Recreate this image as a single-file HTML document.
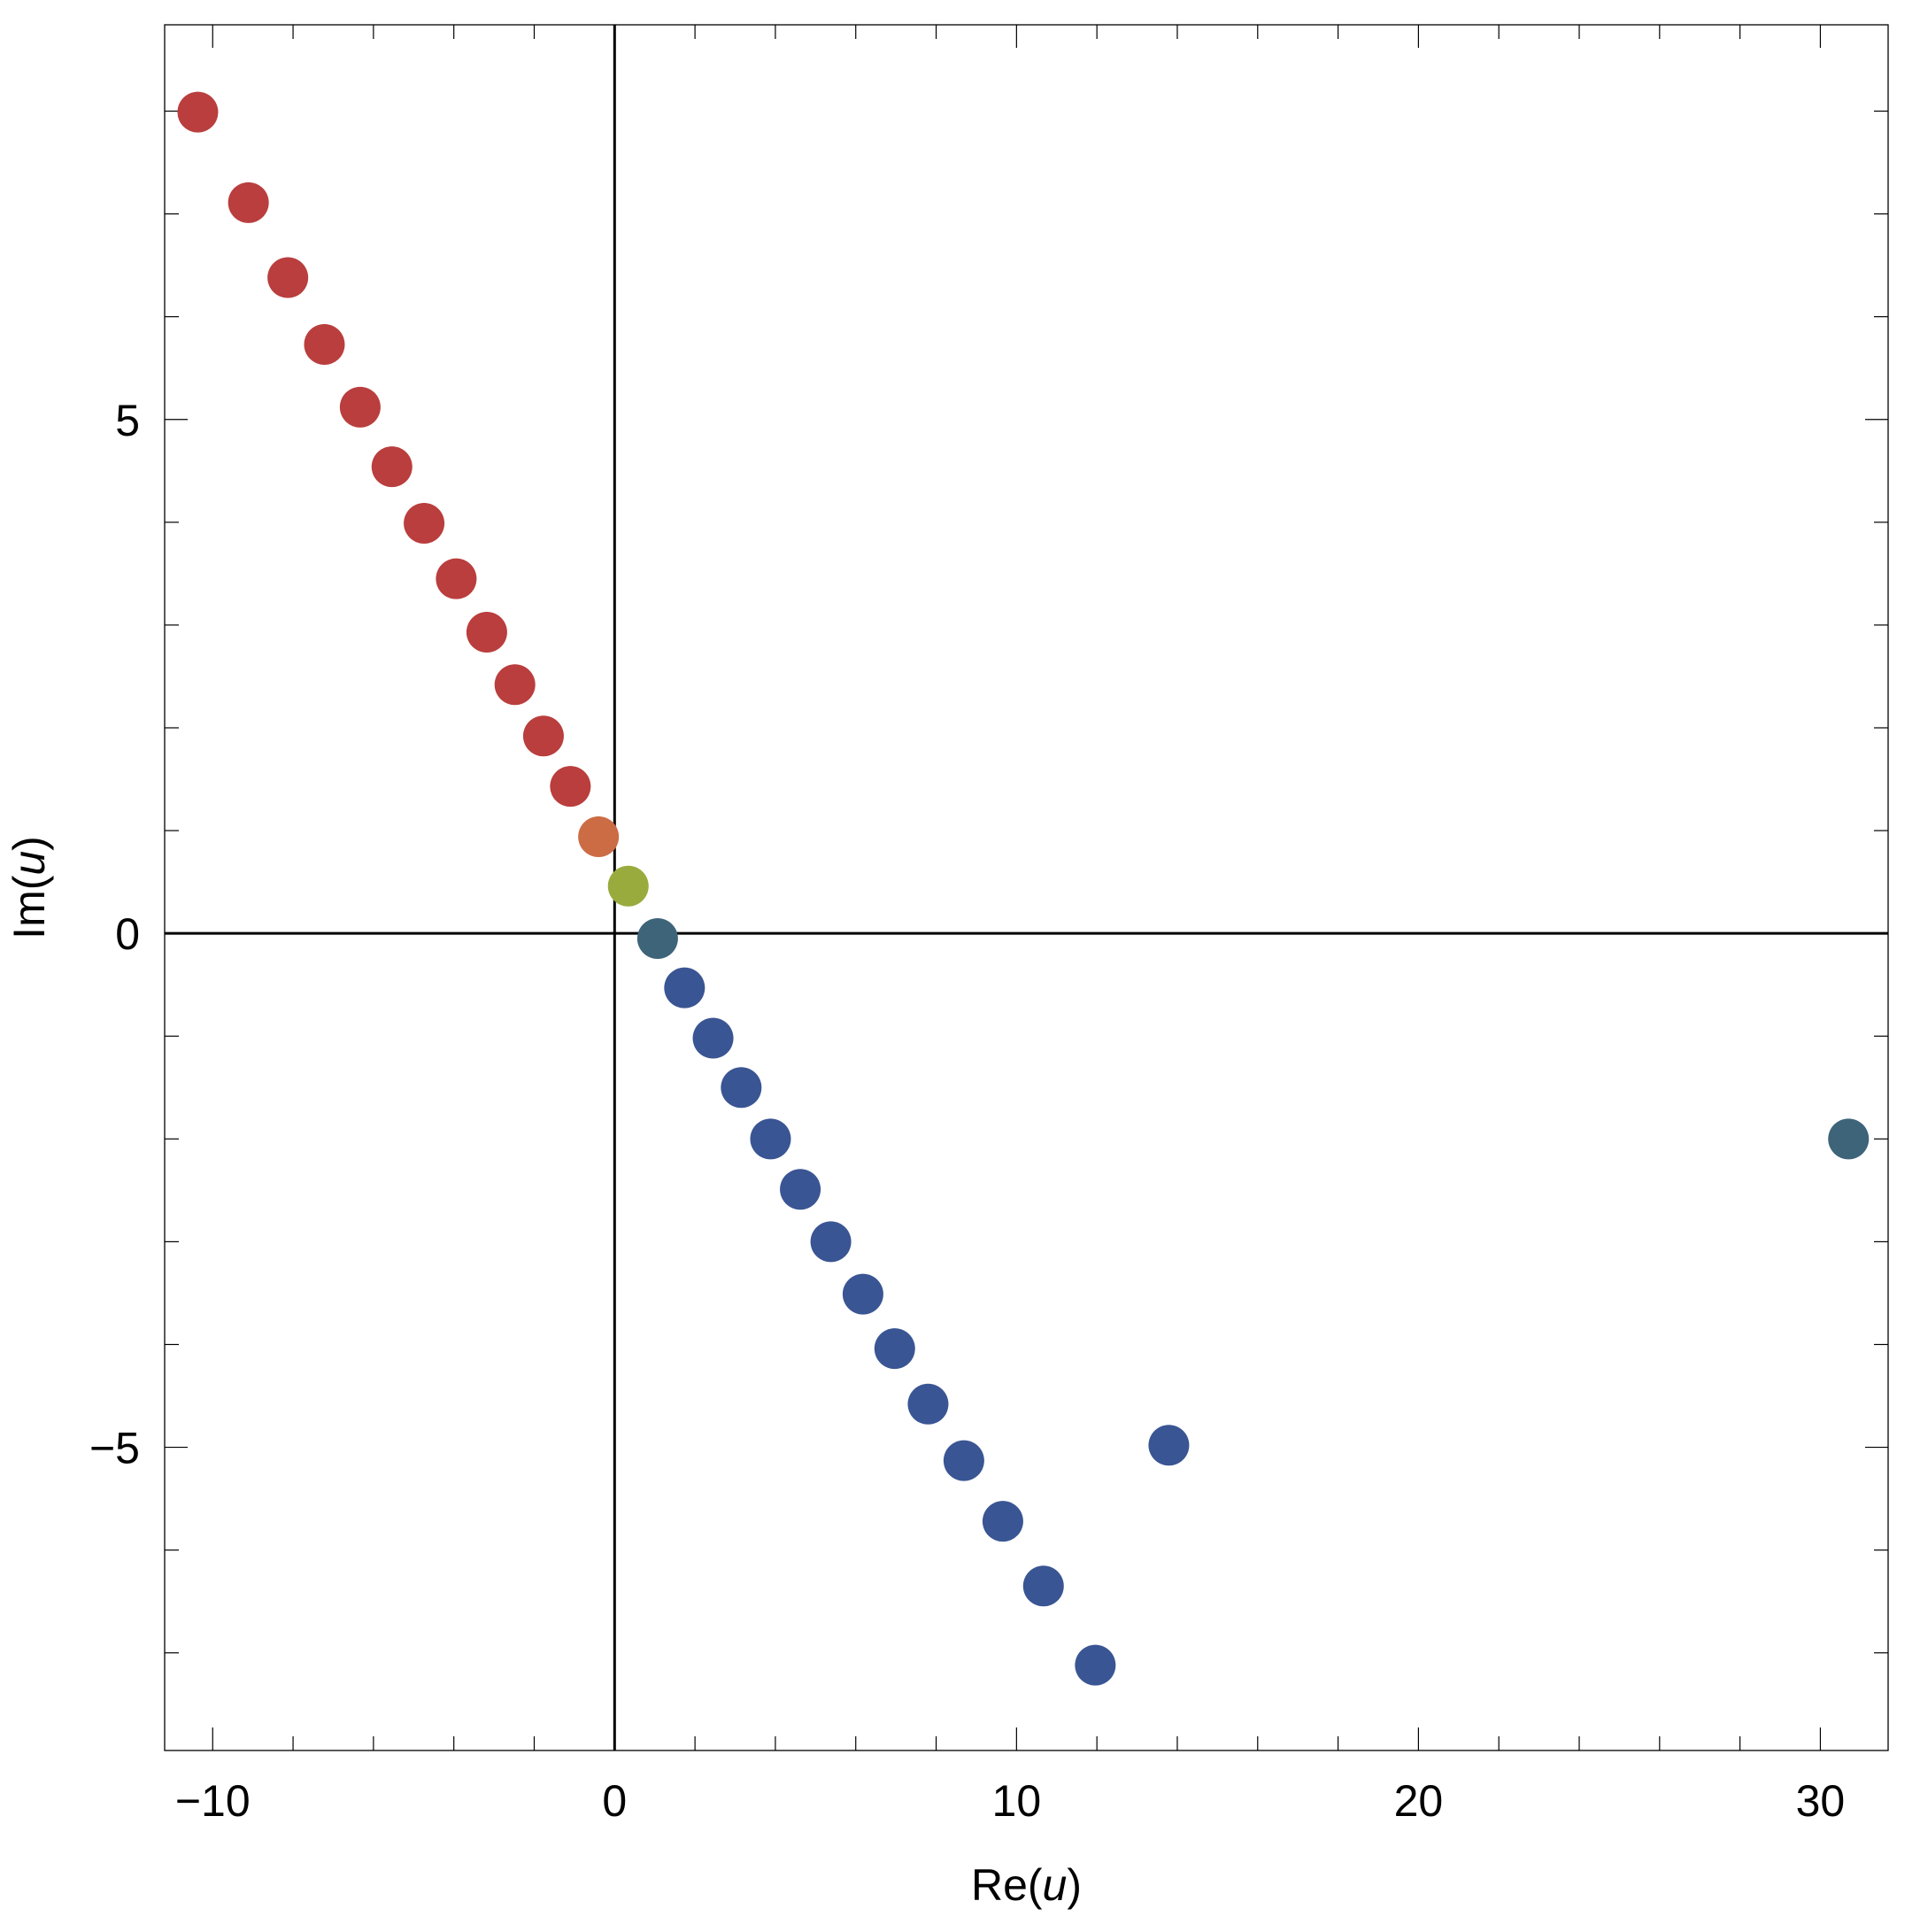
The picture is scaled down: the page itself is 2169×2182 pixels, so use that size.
<!DOCTYPE html>
<html><head><meta charset="utf-8"><style>
html,body{margin:0;padding:0;background:#fff;}
svg{display:block;font-family:"Liberation Sans",Arial,sans-serif;}
</style></head><body>
<svg id="chart" width="2169" height="2182" viewBox="0 0 2169 2182" xmlns="http://www.w3.org/2000/svg">
<g id="frame"></g><g id="ticks"></g><g id="axes"></g><g id="pts"></g><g id="labels"></g>
</svg>
<script>
const reVals=[-10.37,-9.11,-8.13,-7.22,-6.33,-5.54,-4.74,-3.94,-3.18,-2.48,-1.77,-1.10,-0.40,0.34,1.07,1.74,2.45,3.15,3.88,4.62,5.38,6.18,6.97,7.80,8.69,9.66,10.67,11.96,13.79,30.70];
const imVals=[7.99,7.11,6.38,5.73,5.12,4.54,3.99,3.45,2.93,2.42,1.92,1.43,0.94,0.46,-0.05,-0.53,-1.02,-1.50,-2.00,-2.49,-3.00,-3.51,-4.04,-4.58,-5.13,-5.72,-6.35,-7.12,-4.98,-2.00];
const colorKeys=["r","r","r","r","r","r","r","r","r","r","r","r","o","g","t","b","b","b","b","b","b","b","b","b","b","b","b","b","b","t"];
const xTickLabels=[-10,0,10,20,30];
const yTickLabels=[-5,0,5];
const palette={r:"#B93E3D",o:"#CC6C45",g:"#9AAB3E",t:"#3E6479",b:"#3A5593"};
const L=186,R=2133,T=28,B=1977;
const xMin=-11.195,xMax=31.686,yMin=-7.95,yMax=8.84;
const sx=v=>L+(v-xMin)/(xMax-xMin)*(R-L);
const sy=v=>B-(v-yMin)/(yMax-yMin)*(B-T);
const NS="http://www.w3.org/2000/svg";
function mk(tag,attrs,parent){const e=document.createElementNS(NS,tag);for(const k in attrs)e.setAttribute(k,attrs[k]);parent.appendChild(e);return e;}
const frame=document.getElementById('frame'),ticks=document.getElementById('ticks'),axes=document.getElementById('axes'),pts=document.getElementById('pts'),labels=document.getElementById('labels');
const fr=mk('rect',{x:L,y:T,width:R-L,height:B-T,fill:'none',stroke:'#000','stroke-width':1.3},frame);


for(let v=-10;v<=30;v+=2){
  const major=v%10===0, len=major?26:16, x=sx(v);
  const t1=mk('line',{x1:x,x2:x,y1:B,y2:B-len,stroke:'#000','stroke-width':1.2},ticks);
  
  
  const t2=mk('line',{x1:x,x2:x,y1:T,y2:T+len,stroke:'#000','stroke-width':1.2},ticks);
  
  
}
for(let v=-7;v<=8;v++){
  const major=v%5===0, len=major?26:16, y=sy(v);
  const t1=mk('line',{x1:L,x2:L+len,y1:y,y2:y,stroke:'#000','stroke-width':1.2},ticks);
  
  
  const t2=mk('line',{x1:R,x2:R-len,y1:y,y2:y,stroke:'#000','stroke-width':1.2},ticks);
  
  
}
const ax1=mk('line',{x1:sx(0),x2:sx(0),y1:T,y2:B,stroke:'#000','stroke-width':3},axes);


const ax2=mk('line',{x1:L,x2:R,y1:sy(0),y2:sy(0),stroke:'#000','stroke-width':3},axes);


reVals.forEach((re,i)=>{
  const c=mk('circle',{cx:sx(re),cy:sy(imVals[i]),r:23,fill:palette[colorKeys[i]]},pts);
  
  
});
xTickLabels.forEach(v=>{
  const t=mk('text',{x:sx(v),y:B+74,'font-size':50,'text-anchor':'middle',fill:'#000'},labels);
  t.textContent=v<0?'\u2212'+Math.abs(v):String(v);
  
  
});
yTickLabels.forEach(v=>{
  const t=mk('text',{x:L-28,y:sy(v)+18,'font-size':50,'text-anchor':'end',fill:'#000'},labels);
  t.textContent=v<0?'\u2212'+Math.abs(v):String(v);
  
  
});
const xt=mk('text',{x:(L+R)/2,y:2146,'font-size':50,'text-anchor':'middle',fill:'#000'},labels);
xt.innerHTML='Re(<tspan font-style="italic">u</tspan>)';


const yt=mk('text',{x:0,y:0,'font-size':50,'text-anchor':'middle',fill:'#000',transform:'translate(50,'+((T+B)/2)+') rotate(-90)'},labels);
yt.innerHTML='Im(<tspan font-style="italic">u</tspan>)';


</script>
</body></html>
